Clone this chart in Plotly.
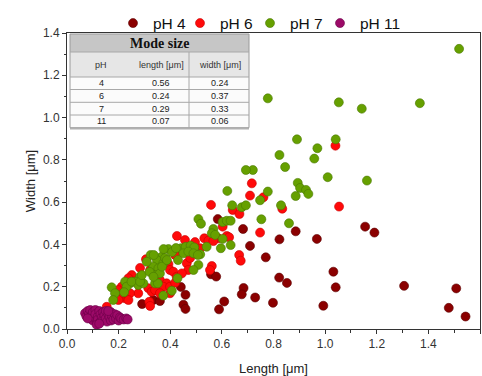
import plotly.graph_objects as go

# ---------------- data ----------------
ph4_x = [0.584, 0.682, 0.709, 0.823, 0.886, 1.155, 1.191, 0.968, 0.770, 1.032, 0.822, 0.852,
         1.041, 1.306, 1.508, 0.684, 0.677, 0.609, 0.729, 0.798, 0.993, 1.479, 1.544, 0.589,
         0.558, 0.578, 0.441, 0.459, 0.451, 0.459, 0.291, 0.334, 0.360]
ph4_y = [0.520, 0.473, 0.393, 0.424, 0.462, 0.484, 0.456, 0.426, 0.339, 0.271, 0.243, 0.218,
         0.197, 0.204, 0.192, 0.194, 0.164, 0.130, 0.149, 0.124, 0.110, 0.100, 0.059, 0.093,
         0.259, 0.248, 0.199, 0.162, 0.115, 0.095, 0.118, 0.137, 0.132]

ph6_x = [1.040, 1.054, 0.716, 0.709, 0.761, 0.834, 0.748, 0.558, 0.642, 0.668, 0.426, 0.532,
         0.548, 0.586, 0.619, 0.628, 0.567, 0.516, 0.503, 0.561, 0.554, 0.667, 0.673, 0.306,
         0.393, 0.399, 0.412, 0.425, 0.464, 0.470, 0.445, 0.360, 0.386, 0.373, 0.399, 0.419,
         0.315, 0.328, 0.341, 0.251, 0.238, 0.264, 0.276, 0.244, 0.225, 0.205, 0.238, 0.212,
         0.199, 0.218, 0.154, 0.319, 0.360, 0.322, 0.199, 0.399, 0.438, 0.477, 0.419, 0.360,
         0.322, 0.283, 0.496, 0.457, 0.603]
ph6_y = [0.867, 0.579, 0.689, 0.631, 0.623, 0.569, 0.456, 0.587, 0.563, 0.544, 0.440, 0.429,
         0.418, 0.429, 0.440, 0.434, 0.416, 0.382, 0.358, 0.298, 0.279, 0.350, 0.323, 0.330,
         0.307, 0.279, 0.271, 0.247, 0.311, 0.279, 0.263, 0.232, 0.216, 0.200, 0.200, 0.219,
         0.193, 0.176, 0.184, 0.255, 0.240, 0.224, 0.169, 0.169, 0.145, 0.145, 0.137, 0.200,
         0.184, 0.169, 0.105, 0.129, 0.169, 0.109, 0.137, 0.169, 0.374, 0.336, 0.350, 0.317,
         0.279, 0.289, 0.411, 0.421, 0.484]

ph7_x = [1.519, 0.778, 1.053, 1.142, 1.367, 0.891, 1.041, 0.970, 0.823, 0.958, 0.845, 0.720,
         0.693, 1.010, 1.162, 0.894, 0.903, 0.926, 0.935, 0.886, 0.778, 0.621, 0.748, 0.829,
         0.640, 0.677, 0.693, 0.753, 0.860, 0.509, 0.519, 0.603, 0.619, 0.634, 0.567, 0.561,
         0.574, 0.603, 0.634, 0.596, 0.541, 0.516, 0.509, 0.490, 0.442, 0.460, 0.479, 0.493,
         0.451, 0.470, 0.490, 0.507, 0.393, 0.367, 0.348, 0.334, 0.354, 0.373, 0.324, 0.309,
         0.341, 0.360, 0.283, 0.264, 0.244, 0.225, 0.231, 0.276, 0.296, 0.428, 0.406, 0.373,
         0.173, 0.186, 0.221, 0.179, 0.341, 0.352, 0.407, 0.422, 0.430, 0.380, 0.250, 0.283,
         0.290, 0.320, 0.336, 0.368, 0.387, 0.335, 0.374]
ph7_y = [1.325, 1.091, 1.072, 1.042, 1.068, 0.897, 0.897, 0.855, 0.823, 0.806, 0.766, 0.752,
         0.752, 0.718, 0.702, 0.691, 0.667, 0.658, 0.639, 0.629, 0.650, 0.653, 0.609, 0.585,
         0.585, 0.576, 0.585, 0.519, 0.500, 0.520, 0.498, 0.506, 0.512, 0.512, 0.473, 0.453,
         0.445, 0.426, 0.397, 0.382, 0.389, 0.353, 0.303, 0.279, 0.382, 0.389, 0.394, 0.386,
         0.358, 0.366, 0.358, 0.350, 0.378, 0.342, 0.326, 0.295, 0.287, 0.311, 0.350, 0.318,
         0.255, 0.263, 0.247, 0.224, 0.216, 0.224, 0.200, 0.208, 0.216, 0.240, 0.181, 0.158,
         0.197, 0.169, 0.174, 0.137, 0.216, 0.216, 0.364, 0.383, 0.326, 0.336, 0.224, 0.224,
         0.255, 0.270, 0.350, 0.295, 0.326, 0.247, 0.378]

ph11_x = [0.070, 0.075, 0.080, 0.085, 0.090, 0.090, 0.095, 0.100, 0.100, 0.105, 0.110, 0.110,
          0.115, 0.120, 0.120, 0.125, 0.130, 0.130, 0.135, 0.140, 0.140, 0.145, 0.150, 0.150,
          0.155, 0.160, 0.165, 0.170, 0.170, 0.175, 0.180, 0.185, 0.190, 0.195, 0.200, 0.205,
          0.210, 0.220, 0.230, 0.235, 0.115, 0.125, 0.080, 0.160]
ph11_y = [0.075, 0.060, 0.085, 0.070, 0.050, 0.090, 0.065, 0.080, 0.040, 0.055, 0.090, 0.070,
          0.030, 0.060, 0.045, 0.085, 0.070, 0.035, 0.055, 0.080, 0.045, 0.065, 0.085, 0.050,
          0.035, 0.070, 0.055, 0.080, 0.040, 0.060, 0.045, 0.070, 0.050, 0.065, 0.040, 0.055,
          0.050, 0.045, 0.050, 0.045, 0.020, 0.025, 0.050, 0.085]

series_names = ["pH 4", "pH 6", "pH 7", "pH 11"]
series_colors = ["#8b0000", "#ff0a0a", "#66a000", "#9c0a68"]
series_edges = ["#5a0000", "#c80000", "#4a7800", "#6a0046"]

# Mode-size table
table_title = "Mode size"
table_header = ["pH", "length [μm]", "width [μm]"]
table_ph = ["4", "6", "7", "11"]
table_length = ["0.56", "0.24", "0.29", "0.07"]
table_width = ["0.24", "0.37", "0.33", "0.06"]

# ---------------- figure ----------------
W, H = 482, 376
ML, MR, MT, MB = 67, 2, 33, 47
PW, PH = W - ML - MR, H - MT - MB

def px_x(p):
    return (p - ML) / PW

def px_y(p):
    return (H - MB - p) / PH

fig = go.Figure()
xs = [ph4_x, ph6_x, ph7_x, ph11_x]
ys = [ph4_y, ph6_y, ph7_y, ph11_y]
legend_ids = ["legend", "legend2", "legend3", "legend4"]
legend_left_px = [113, 180, 250, 320]
for name, x, y, c, e, lg in zip(series_names, xs, ys, series_colors, series_edges, legend_ids):
    fig.add_trace(go.Scatter(
        x=x, y=y, mode="markers", name=name, legend=lg,
        marker=dict(size=9, color=c, line=dict(color=e, width=0.6)),
    ))

shapes = []
annotations = []
tl, tr = 70, 249
colsep = 189
rows = [34, 52, 77, 89.5, 102.3, 115, 127.7]

shapes.append(dict(type="rect", xref="paper", yref="paper", x0=px_x(tl), x1=px_x(tr),
                   y0=px_y(rows[1]), y1=px_y(rows[0]), fillcolor="#c6c6c6",
                   line=dict(width=0), layer="above"))
shapes.append(dict(type="rect", xref="paper", yref="paper", x0=px_x(tl), x1=px_x(tr),
                   y0=px_y(rows[2]), y1=px_y(rows[1]), fillcolor="#e6e6e6",
                   line=dict(width=0), layer="above"))
shapes.append(dict(type="rect", xref="paper", yref="paper", x0=px_x(tl), x1=px_x(tr),
                   y0=px_y(rows[-1]), y1=px_y(rows[2]), fillcolor="#fbfbfb",
                   line=dict(width=0), layer="above"))
shapes.append(dict(type="rect", xref="paper", yref="paper", x0=px_x(tl), x1=px_x(tr),
                   y0=px_y(rows[-1]), y1=px_y(rows[0]), fillcolor="rgba(0,0,0,0)",
                   line=dict(width=1, color="#9a9a9a"), layer="above"))
for r in rows[1:-1]:
    shapes.append(dict(type="line", xref="paper", yref="paper", x0=px_x(tl), x1=px_x(tr),
                       y0=px_y(r), y1=px_y(r), line=dict(width=1, color="#a8a8a8"), layer="above"))
shapes.append(dict(type="line", xref="paper", yref="paper", x0=px_x(tl), x1=px_x(tr),
                   y0=px_y(rows[-1] + 1), y1=px_y(rows[-1] + 1),
                   line=dict(width=1.5, color="#b0b0b0"), layer="above"))
shapes.append(dict(type="line", xref="paper", yref="paper", x0=px_x(colsep), x1=px_x(colsep),
                   y0=px_y(rows[-1]), y1=px_y(rows[1]), line=dict(width=1, color="#a8a8a8"),
                   layer="above"))

annotations.append(dict(text="<b>" + table_title + "</b>", xref="paper", yref="paper",
                        x=px_x((tl + tr) / 2), y=px_y((rows[0] + rows[1]) / 2),
                        xanchor="center", yanchor="middle",
                        showarrow=False, font=dict(family="Liberation Serif", size=14, color="#111")))
col_x = [101, 161, 220]
for cx, t in zip(col_x, table_header):
    annotations.append(dict(text=t, xref="paper", yref="paper", x=px_x(cx),
                            y=px_y((rows[1] + rows[2]) / 2), showarrow=False,
                            xanchor="center", yanchor="middle",
                            font=dict(family="Liberation Sans", size=9, color="#333")))
for i, (a, b, c) in enumerate(zip(table_ph, table_length, table_width)):
    yc = (rows[2 + i] + rows[3 + i]) / 2
    for cx, t in zip(col_x, [a, b, c]):
        annotations.append(dict(text=t, xref="paper", yref="paper", x=px_x(cx),
                                y=px_y(yc), showarrow=False,
                                xanchor="center", yanchor="middle",
                                font=dict(family="Liberation Sans", size=9, color="#222")))

axis_common = dict(
    showgrid=False, zeroline=False, showline=True, linecolor="#333", linewidth=1,
    mirror=True, ticks="outside", ticklen=4, tickwidth=1, tickcolor="#333",
    tickfont=dict(family="Liberation Sans", size=12, color="#333"),
    minor=dict(ticks="outside", ticklen=2.5, tickwidth=1, tickcolor="#333", dtick=0.1),
)

legend_style = dict(orientation="h", yanchor="middle", y=px_y(23.5),
                    font=dict(family="Liberation Sans", size=15.5, color="#111"),
                    bgcolor="rgba(0,0,0,0)", itemwidth=30, xanchor="left")
layout_legends = {}
for lg, lx in zip(legend_ids, legend_left_px):
    layout_legends[lg] = dict(x=px_x(lx), **legend_style)

fig.update_layout(
    width=W, height=H,
    margin=dict(l=ML, r=MR, t=MT, b=MB, pad=0),
    paper_bgcolor="white", plot_bgcolor="white",
    xaxis=dict(range=[0, 1.6], dtick=0.2, tick0=0, tickformat=".1f",
               title=dict(text="Length [μm]", standoff=14,
                          font=dict(family="Liberation Sans", size=13, color="#222")),
               **axis_common),
    yaxis=dict(range=[0, 1.4], dtick=0.2, tick0=0, tickformat=".1f",
               title=dict(text="Width [μm]", standoff=4,
                          font=dict(family="Liberation Sans", size=13, color="#222")),
               **axis_common),
    shapes=shapes, annotations=annotations,
    showlegend=True,
    **layout_legends,
)

fig.write_html("out.html")
